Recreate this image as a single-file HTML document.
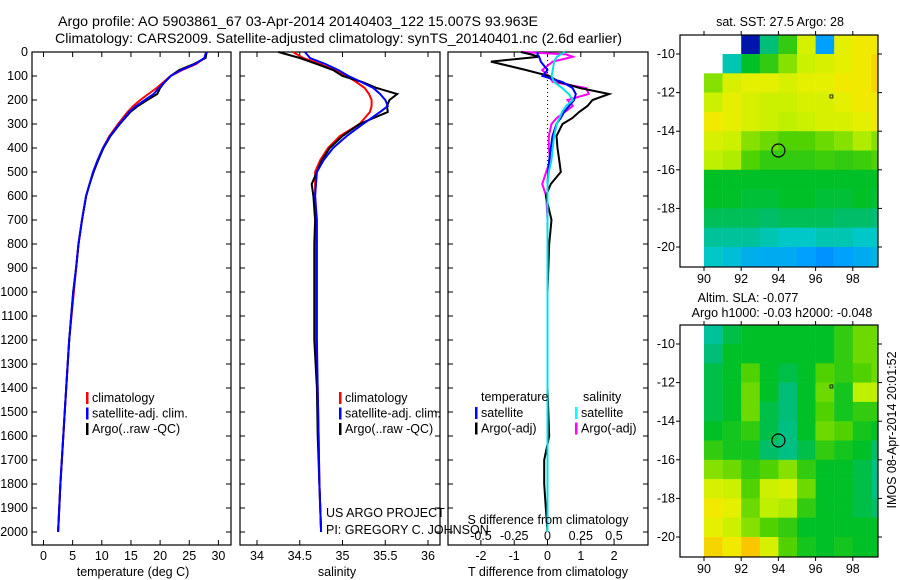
<!DOCTYPE html>
<html><head><meta charset="utf-8">
<style>
html,body{margin:0;padding:0;background:#fff;}
svg{display:block;font-family:"Liberation Sans",sans-serif;}
text{font-size:12.5px;fill:#000;}
</style></head>
<body>
<svg id="fig" width="900" height="580" viewBox="0 0 900 580" xmlns="http://www.w3.org/2000/svg">
<text x="58" y="26" textLength="480" lengthAdjust="spacingAndGlyphs" style="font-size:14px">Argo profile: AO 5903861_67 03-Apr-2014 20140403_122 15.007S 93.963E</text>
<text x="55" y="43" textLength="567" lengthAdjust="spacingAndGlyphs" style="font-size:14px">Climatology: CARS2009. Satellite-adjusted climatology: synTS_20140401.nc (2.6d earlier)</text>
<g id="plots"></g>
</svg>
<script>
// ---- profile data ----
const depth = [0,25,50,75,100,125,150,175,200,225,250,300,350,400,450,500,550,600,700,800,900,1000,1200,1400,1600,1800,2000];
const tArgo = [28.0,27.8,25.8,23.3,21.8,20.8,20.0,19.5,17.8,16.2,14.9,13.1,11.5,10.3,9.4,8.6,7.9,7.3,6.6,6.0,5.6,5.1,4.4,3.9,3.4,2.9,2.5];
const tClim = [27.9,27.6,26.2,23.8,21.8,20.6,19.4,18.0,16.6,15.4,14.4,12.8,11.3,10.2,9.3,8.5,7.9,7.3,6.6,6.0,5.6,5.2,4.4,3.9,3.4,2.9,2.5];
const tSat  = [27.9,27.6,26.0,23.6,21.8,20.8,19.8,18.9,17.4,15.9,14.7,13.0,11.4,10.2,9.3,8.5,7.9,7.3,6.6,6.0,5.6,5.1,4.4,3.9,3.4,2.9,2.5];
const sArgo = [34.25,34.5,34.70,34.89,35.0,35.23,35.40,35.64,35.55,35.52,35.53,35.2,35.0,34.85,34.76,34.7,34.64,34.66,34.68,34.67,34.67,34.67,34.67,34.70,34.71,34.73,34.75];
const sClim = [34.42,34.54,34.74,34.9,35.05,35.16,35.26,35.31,35.34,35.34,35.32,35.2,34.97,34.83,34.74,34.68,34.68,34.68,34.69,34.69,34.69,34.69,34.69,34.71,34.72,34.73,34.75];
const sSat  = [34.56,34.62,34.8,34.95,35.07,35.22,35.36,35.44,35.5,35.53,35.44,35.24,35.05,34.89,34.78,34.7,34.69,34.68,34.70,34.70,34.70,34.70,34.70,34.71,34.72,34.73,34.75];
const dDepth = [0,10,20,40,75,100,125,150,175,200,225,250,275,300,350,400,450,500,550,600,700,800,1000,1200,1400,1600,1700,1800,1900,2000];
const dTArgo = [-0.8,-0.5,-0.25,-1.7,-0.65,0.05,0.35,0.97,1.85,1.35,1.2,0.95,0.75,0.45,0.27,0.3,0.35,0.4,0.1,-0.05,0.12,0.05,0.0,0.0,0.0,0.05,-0.1,-0.1,-0.05,0.0];
const dTSat  = [-0.3,-0.3,-0.25,-0.2,0.0,-0.15,0.45,0.75,0.85,0.8,0.65,0.5,0.4,0.27,0.15,0.1,0.05,0.02,0.0,0.0,0.0,0.0,0.0,0.0,0.0,0.0,0.0,0.0,0.0,0.0];
const dSSat  = [0.13,0.1,0.07,0.05,0.04,0.03,0.05,0.11,0.16,0.19,0.14,0.11,0.09,0.07,0.05,0.04,0.03,0.01,0.0,0.0,0.0,0.0,0.0,0.0,0.0,0.0,0.0,0.0,0.0,0.0];
const dSArgo = [-0.19,0.14,0.19,0.04,-0.04,0.01,0.04,0.29,0.31,0.15,0.19,0.13,0.07,0.03,0.01,0.01,0.02,-0.01,-0.04,-0.01,0.0,0.0,0.0,0.0,0.0,0.0,0.0,0.0,0.0,0.0];
const depthTicks = [0,100,200,300,400,500,600,700,800,900,1000,1100,1200,1300,1400,1500,1600,1700,1800,1900,2000];
const tempTicks = [0,5,10,15,20,25,30];
const salTicks = [34,34.5,35,35.5,36];
const tdTicks = [-2,-1,0,1,2];
const sdTicks = [-0.5,-0.25,0,0.25,0.5];
// ---- map data (1-degree cells, rows lat -9..-21, cols lon 90..100) ----
const mapLats = [-9,-10,-11,-12,-13,-14,-15,-16,-17,-18,-19,-20];
const mapLons = [90,91,92,93,94,95,96,97,98,99];
const sstGrid = [
 [null,null,0.05,0.45,0.55,0.7,0.3,0.72,0.75,0.75],
 [null,0.4,0.5,0.55,0.62,0.68,0.7,0.72,0.75,0.78],
 [0.62,0.7,0.72,0.72,0.7,0.72,0.72,0.75,0.75,0.78],
 [0.68,0.72,0.7,0.68,0.68,0.7,0.7,0.72,0.75,0.75],
 [0.75,0.72,0.7,0.68,0.66,0.68,0.7,0.7,0.72,0.75],
 [0.7,0.68,0.62,0.6,0.58,0.58,0.6,0.62,0.65,0.62],
 [0.66,0.65,0.58,0.55,0.55,0.55,0.56,0.55,0.56,0.58],
 [0.5,0.5,0.5,0.5,0.5,0.5,0.5,0.5,0.5,0.5],
 [0.5,0.5,0.49,0.49,0.5,0.5,0.49,0.49,0.5,0.49],
 [0.47,0.47,0.47,0.46,0.47,0.47,0.47,0.46,0.46,0.45],
 [0.42,0.42,0.42,0.4,0.38,0.38,0.4,0.4,0.38,0.38],
 [0.38,0.36,0.33,0.32,0.32,0.3,0.28,0.3,0.32,0.34]];
const slaGrid = [
 [0.42,0.48,0.5,0.5,0.5,0.5,0.5,0.55,0.6,0.6],
 [0.45,0.5,0.5,0.5,0.5,0.5,0.5,0.55,0.6,0.6],
 [0.48,0.5,0.58,0.5,0.48,0.5,0.58,0.55,0.58,0.6],
 [0.48,0.5,0.6,0.5,0.45,0.5,0.6,0.52,0.66,0.66],
 [0.48,0.5,0.6,0.48,0.45,0.5,0.58,0.52,0.55,0.55],
 [0.5,0.52,0.55,0.48,0.44,0.5,0.6,0.58,0.52,0.5],
 [0.55,0.52,0.52,0.46,0.44,0.48,0.55,0.52,0.5,0.46],
 [0.62,0.6,0.55,0.58,0.62,0.55,0.5,0.5,0.48,0.44],
 [0.7,0.68,0.58,0.68,0.7,0.6,0.5,0.5,0.48,0.44],
 [0.75,0.72,0.6,0.66,0.65,0.55,0.5,0.5,0.48,0.46],
 [0.72,0.68,0.62,0.58,0.55,0.5,0.5,0.5,0.5,0.5],
 [0.78,0.75,0.8,0.7,0.58,0.52,0.5,0.52,0.5,0.5]];
const latTicks = [-10,-12,-14,-16,-18,-20];
const lonTicks = [90,92,94,96,98];

const NS='http://www.w3.org/2000/svg';
const root=document.getElementById('plots');
function mk(tag,attrs,parent){const e=document.createElementNS(NS,tag);for(const k in attrs)e.setAttribute(k,attrs[k]);(parent||root).appendChild(e);return e;}
function txt(s,x,y,anchor,name,parent){const t=mk('text',{x:x,y:y,'text-anchor':anchor||'start'},parent);t.textContent=s;


return t;}

const Y0=52, Y1=545;
const yD=d=>Y0+d*0.24;
const xT=v=>43.5+v*5.83;
const xS=v=>257+(v-34)*85.5;
const xTD=v=>547.5+v*33.3;
const xSD=v=>547.5+v*133;

function panel(x0,x1,name){
  const g=mk('g',{});
  
  
  const r=mk('rect',{x:x0,y:Y0,width:x1-x0,height:Y1-Y0,fill:'none',stroke:'#000','stroke-width':1.2},g);
  
  
  depthTicks.forEach(d=>{mk('line',{x1:x0,x2:x0+5,y1:yD(d),y2:yD(d),stroke:'#000'},g);mk('line',{x1:x1,x2:x1-5,y1:yD(d),y2:yD(d),stroke:'#000'},g);});
  return g;
}
function line(xs,ys,fx,color,name,w){
  const pts=xs.map((v,i)=>fx(v).toFixed(1)+','+yD(ys[i]).toFixed(1)).join(' ');
  const p=mk('polyline',{points:pts,fill:'none',stroke:color,'stroke-width':w||2});
  
  
}
function legend(x,y,items,g){
  items.forEach((it,i)=>{const b=mk('rect',{x:x,y:y+i*15.5-10,width:2.5,height:12,fill:it[0]});
  
  
  txt(it[1],x+6,y+i*15.5,'start','legend-entry');});
}

// panel 1 temperature
const p1=panel(32,231,'temperature-panel');
depthTicks.forEach(d=>txt(String(d),28,yD(d)+4,'end','depth-tick-label'));
tempTicks.forEach(v=>{mk('line',{x1:xT(v),x2:xT(v),y1:Y1,y2:Y1-5,stroke:'#000'});mk('line',{x1:xT(v),x2:xT(v),y1:Y0,y2:Y0+5,stroke:'#000'});txt(String(v),xT(v),560,'middle','temperature-tick-label');});
line(tClim,depth,xT,'#ff0000','temp-climatology-line');
line(tArgo,depth,xT,'#000000','temp-argo-line');
line(tSat,depth,xT,'#0000ff','temp-satellite-line');
txt('temperature (deg C)',133,576,'middle','x-axis-title-temperature');
legend(86,402,[['#f00','climatology'],['#00f','satellite-adj. clim.'],['#000','Argo(..raw -QC)']]);

// panel 2 salinity
panel(240,440,'salinity-panel');
salTicks.forEach(v=>{mk('line',{x1:xS(v),x2:xS(v),y1:Y1,y2:Y1-5,stroke:'#000'});mk('line',{x1:xS(v),x2:xS(v),y1:Y0,y2:Y0+5,stroke:'#000'});txt(String(v),xS(v),560,'middle','salinity-tick-label');});
line(sClim,depth,xS,'#ff0000','sal-climatology-line');
line(sArgo,depth,xS,'#000000','sal-argo-line');
line(sSat,depth,xS,'#0000ff','sal-satellite-line');
txt('salinity',337,576,'middle','x-axis-title-salinity');
legend(339,402,[['#f00','climatology'],['#00f','satellite-adj. clim.'],['#000','Argo(..raw -QC)']]);
txt('US ARGO PROJECT',326,517,'start','credit-project');
txt('PI: GREGORY C. JOHNSON',326,534,'start','credit-pi');

// panel 3 differences
panel(448,648,'difference-panel');
tdTicks.forEach(v=>{mk('line',{x1:xTD(v),x2:xTD(v),y1:Y1,y2:Y1-5,stroke:'#000'});mk('line',{x1:xTD(v),x2:xTD(v),y1:Y0,y2:Y0+5,stroke:'#000'});txt(String(v),xTD(v),560,'middle','t-diff-tick-label');});
sdTicks.forEach(v=>txt(String(v),xSD(v),540,'middle','s-diff-tick-label'));
mk('line',{x1:547.5,x2:547.5,y1:Y0,y2:330,stroke:'#000','stroke-dasharray':'1,3'});
line(dSArgo,dDepth,xSD,'#ff00ff','sdiff-argo-line');
line(dTArgo,dDepth,xTD,'#000000','tdiff-argo-line');
line(dTSat,dDepth,xTD,'#0000ff','tdiff-satellite-line');
line(dSSat,dDepth,xSD,'#00e0e0','sdiff-satellite-line');
txt('temperature',481,401,'start','legend-title-temperature');
txt('salinity',583,401,'start','legend-title-salinity');
legend(475,417,[['#00f','satellite'],['#000','Argo(-adj)']]);
legend(575,417,[['#0ff','satellite'],['#f0f','Argo(-adj)']]);
txt('S difference from climatology',548,524,'middle','s-diff-axis-title');
txt('T difference from climatology',548,576,'middle','t-diff-axis-title');

// maps
const cmapStops=[[0,[0,0,128]],[0.15,[0,64,255]],[0.3,[0,160,255]],[0.38,[0,200,200]],[0.45,[0,190,120]],[0.5,[0,192,40]],[0.58,[80,210,0]],[0.66,[190,240,0]],[0.74,[240,240,0]],[0.84,[255,170,0]],[1,[200,0,0]]];
function cmap(v){for(let i=1;i<cmapStops.length;i++){if(v<=cmapStops[i][0]){const a=cmapStops[i-1],b=cmapStops[i];const f=(v-a[0])/(b[0]-a[0]);const c=a[1].map((x,k)=>Math.round(x+(b[1][k]-x)*f));return 'rgb('+c.join(',')+')';}}return 'rgb(200,0,0)';}
const MX0=680,MX1=878;
const xL=lon=>704+(lon-90)*18.6;
function map(top,grid,name,titles){
  const bottom=top+232;
  const yLat=lat=>top+19+(-10-lat)*19.3;
  const clipId='clip'+name;
  const defs=mk('defs',{});const cp=mk('clipPath',{id:clipId},defs);mk('rect',{x:MX0,y:top,width:MX1-MX0,height:bottom-top},cp);
  const g=mk('g',{'clip-path':'url(#'+clipId+')'});
  
  
  grid.forEach((row,ri)=>row.forEach((v,ci)=>{if(v===null)return;
    const lat=mapLats[ri],lon=mapLons[ci];
    const y=ri===0?top:yLat(lat);
    const c=mk('rect',{x:xL(lon),y:y,width:18.8,height:yLat(lat-1)-y+0.3,fill:cmap(v)},g);
    
    
  }));
  const fr=mk('rect',{x:MX0,y:top,width:MX1-MX0,height:bottom-top,fill:'none',stroke:'#000','stroke-width':1.2});
  
  
  latTicks.forEach(l=>{mk('line',{x1:MX0,x2:MX0-4,y1:yLat(l),y2:yLat(l),stroke:'#000'});mk('line',{x1:MX1,x2:MX1+4,y1:yLat(l),y2:yLat(l),stroke:'#000'});txt(String(l),675,yLat(l)+4,'end','latitude-tick-label');});
  lonTicks.forEach(l=>{mk('line',{x1:xL(l),x2:xL(l),y1:bottom,y2:bottom+4,stroke:'#000'});mk('line',{x1:xL(l),x2:xL(l),y1:top,y2:top-4,stroke:'#000'});txt(String(l),xL(l),bottom+16,'middle','longitude-tick-label');});
  const c=mk('circle',{cx:xL(94),cy:yLat(-15),r:6.5,fill:'none',stroke:'#000','stroke-width':1.2});
  
  
  mk('rect',{x:xL(96.85)-1.5,y:yLat(-12.2)-1.5,width:3,height:3,fill:'none',stroke:'#000','stroke-width':0.8});
  titles.forEach((t,i)=>txt(t[0],t[1],t[2],'middle',name+'-title-'+(i+1)));
}
map(35,sstGrid,'sst-map',[['sat. SST: 27.5 Argo: 28',780,26]]);
map(325,slaGrid,'sla-map',[['Altim. SLA: -0.077',748,302],['Argo h1000: -0.03 h2000: -0.048',782,317]]);
const side=txt('IMOS 08-Apr-2014 20:01:52',0,0,'middle','imos-timestamp');
side.setAttribute('transform','translate(896,430) rotate(-90)');
</script>
</body></html>
